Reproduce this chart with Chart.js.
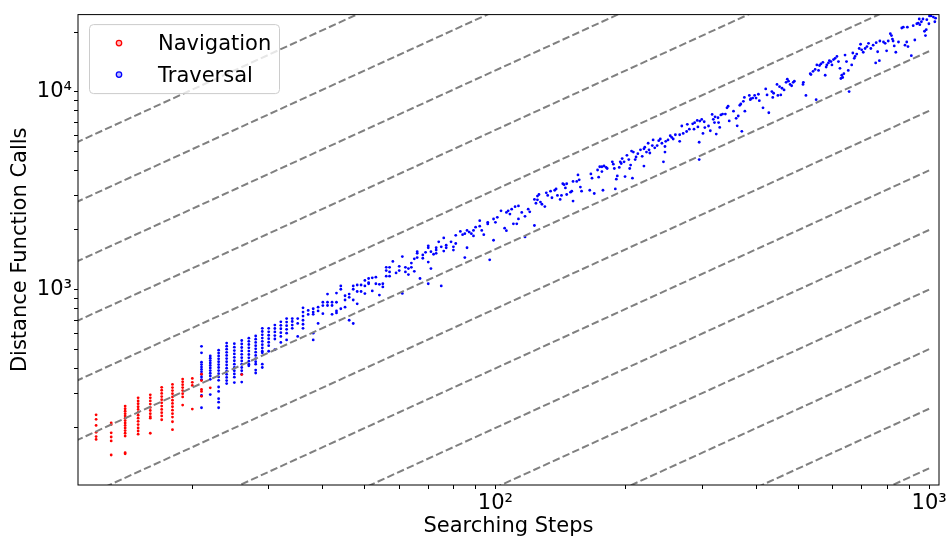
<!DOCTYPE html>
<html>
<head>
<meta charset="utf-8">
<title>Searching Steps vs Distance Function Calls</title>
<script src="https://cdn.jsdelivr.net/npm/chart.js@4.4.1/dist/chart.umd.min.js"></script>
<style>
  html, body { margin: 0; padding: 0; background: #fff; }
  canvas { display: block; }
</style>
</head>
<body>
<canvas id="steps-chart" width="949" height="542"></canvas>
<script>
// searching steps (x) vs distance function calls (y)
// dense low-step runs are kept as [steps, [calls...]] columns
const navigationColumns = [
  [12, [233, 221, 206, 190, 181, 175]],
  [13, [212, 208, 189, 180, 172, 146]],
  [14, [258, 250, 243, 236, 230, 224, 218, 212, 206, 200, 194, 188, 182, 150, 148]],
  [15, [284, 274, 265, 256, 248, 240, 232, 224, 216, 208, 200, 193, 186]],
  [16, [294, 284, 274, 264, 254, 245, 236, 228, 224, 188]],
  [17, [321, 310, 299, 288, 278, 268, 258, 248, 239, 230, 220]],
  [18, [332, 320, 309, 298, 287, 276, 266, 256, 246, 236, 227, 215, 196]],
  [19, [353, 342, 331, 320, 309, 298, 287, 261]],
  [20, [356, 340, 328, 249]],
  [21, [374, 347, 313, 306, 289]],
  [22, [319]],
  [26, [372]],
];

const traversalColumns = [
  [21, [517, 479, 430, 418, 406, 395, 384, 373, 362, 351, 292, 253]],
  [22, [462, 450, 438, 426, 414, 402, 390, 378, 366, 352, 295]],
  [23, [494, 478, 462, 447, 432, 418, 404, 390, 376, 362, 348, 322, 306, 281, 270, 253]],
  [24, [537, 518, 500, 482, 465, 448, 432, 416, 401, 387, 373, 360, 347, 335]],
  [25, [533, 512, 492, 473, 455, 437, 420, 404, 389, 375, 361, 339]],
  [26, [553, 531, 510, 490, 471, 453, 436, 420, 404, 389, 374, 341]],
  [27, [568, 548, 528, 508, 489, 470, 452, 435, 420, 412]],
  [28, [583, 562, 541, 521, 502, 483, 465, 448, 432, 420, 392, 379]],
  [29, [637, 614, 591, 569, 548, 527, 507, 488, 479, 420, 404]],
  [30, [637, 612, 588, 565, 542, 521, 488]],
  [31, [662, 636, 611, 586, 563, 497]],
  [32, [687, 660, 634, 606, 580, 541]],
  [33, [714, 685, 657, 630, 602, 557]],
  [34, [714, 690, 662, 637]],
  [35, [714, 675, 580]],
  [36, [809, 770, 735, 700, 668, 637]],
  [37, [785, 749]],
  [38, [602, 557]],
];

const traversalPoints = [
  [38, 800], [38, 770], [38, 750], [39, 815], [39, 780], [39, 675], [40, 863], [40, 830], [40, 756],
  [41, 949], [41, 863], [41, 831], [42, 863], [42, 831], [42, 750], [43, 960], [43, 863], [43, 780],
  [43, 762], [44, 1043], [44, 1004], [44, 800], [45, 886], [45, 931], [45, 815], [46, 949], [46, 914],
  [46, 700], [47, 1043], [47, 1004], [47, 886], [47, 674], [48, 1055], [48, 978], [48, 847], [49, 1055],
  [49, 978], [50, 1112], [50, 1043], [50, 955], [51, 1138], [51, 1083], [51, 1070], [52, 985], [52, 1147],
  [53, 1156], [53, 1070], [54, 1063], [54, 938], [55, 1070], [55, 1031], [56, 1296], [56, 1247], [56, 1169],
  [57, 1296], [57, 1228], [57, 1169], [58, 1387], [59, 1214], [60, 1310], [60, 1247], [61, 1468], [61, 956],
  [62, 1228], [62, 1296], [63, 1191], [63, 1277], [64, 1296], [64, 1361], [65, 1237], [65, 1430], [66, 1525],
  [66, 1452], [66, 1554], [67, 1138], [68, 1496], [68, 1440], [69, 1542], [70, 1377], [70, 1070], [70, 1664],
  [70, 1627], [71, 1277], [71, 1554], [72, 1508], [73, 1584], [73, 1524], [73, 1627], [74, 1742], [75, 1043],
  [75, 1645], [76, 1823], [76, 1566], [77, 1627], [77, 1677], [79, 1742], [80, 1584], [80, 1645], [81, 1709],
  [81, 1880], [83, 1967], [84, 1894], [85, 1916], [85, 1452], [86, 1627], [86, 1990], [87, 1952], [88, 1916],
  [89, 1990], [89, 1866], [90, 2067], [92, 2090], [92, 2230], [93, 1990], [94, 1894], [96, 2147], [96, 2188],
  [97, 1413], [99, 2273], [99, 1775], [100, 2188], [101, 2317], [103, 2499],
  [105, 2044], [106, 1984], [106, 2453], [107, 2500], [108, 2407], [109, 2548], [110, 2148], [111, 2623],
  [113, 2646], [113, 2274], [112, 2148], [115, 2453], [117, 2344], [119, 2548], [120, 2470], [117, 1845],
  [123, 2108], [123, 2855], [124, 2730], [125, 2966], [125, 2840], [126, 3022], [127, 2769], [128, 2698],
  [130, 2627], [131, 3081], [132, 2990], [134, 3140], [135, 2910], [137, 3175], [138, 3225], [139, 2990],
  [141, 2855], [142, 2990], [143, 3426], [144, 3387], [145, 3261], [146, 3426], [146, 3023], [149, 3104],
  [150, 3140], [151, 3518], [151, 2801], [154, 3518], [155, 3796], [156, 3586], [157, 3297], [158, 3140],
  [165, 3175], [166, 3838], [167, 3655], [169, 3058], [172, 4019], [173, 3697], [174, 4174], [176, 3944],
  [176, 4174], [177, 3175], [178, 4210], [180, 4142], [181, 4091], [186, 4418], [187, 4300], [188, 4091],
  [189, 3224], [190, 3613], [191, 3752], [193, 4142], [194, 4418], [195, 4336], [196, 4590], [198, 4418],
  [199, 3725], [201, 4768], [203, 4536], [204, 4091], [205, 4254], [206, 5008], [207, 3655], [208, 4952],
  [210, 4536], [211, 4676], [213, 4858], [216, 5085], [218, 4712], [220, 4206], [220, 5143], [221, 5242],
  [223, 4952], [225, 5485], [226, 5085], [227, 4898], [230, 5342], [231, 5700], [233, 5201], [236, 5342],
  [238, 5656], [240, 5764], [242, 5485], [244, 4419], [246, 4952], [246, 5283], [247, 5613], [250, 5700],
  [253, 5986], [255, 5874], [257, 5764], [260, 6056], [266, 6056], [266, 5613], [269, 6707], [271, 6148],
  [276, 6290], [277, 6834], [280, 6459], [285, 6874], [287, 6459], [288, 6966], [292, 7154], [293, 6631],
  [295, 5549], [295, 4536], [296, 7100], [299, 7236], [301, 6148], [303, 7045], [304, 6583], [310, 6707],
  [313, 6343], [316, 7674], [318, 7249], [320, 6980], [321, 7458], [323, 6106], [326, 7382], [327, 6980],
  [329, 6594], [331, 7624], [334, 7706], [339, 7706], [342, 8280], [344, 8437], [346, 7114], [354, 7971],
  [359, 7327], [361, 6719], [363, 7531], [366, 8537], [368, 8660], [370, 6306], [373, 8933], [375, 9349],
  [376, 7971], [385, 9564], [387, 9104], [388, 9214], [392, 9277], [396, 9564], [399, 9277], [404, 9700],
  [406, 8997], [414, 8280], [420, 10320], [423, 9627], [427, 7821], [434, 10010], [436, 9349], [438, 9814],
  [446, 10870], [448, 9564], [452, 10600], [455, 9627], [458, 10400], [463, 10200], [468, 11140], [471, 11560],
  [474, 11300], [478, 10870], [482, 10710], [486, 11140], [489, 11300], [512, 10870], [513, 11140], [520, 9564],
  [532, 12330], [534, 12190], [540, 12660], [546, 12950], [549, 9104], [551, 13650], [556, 12800], [559, 13550],
  [563, 13810], [569, 14070], [576, 12100], [579, 13300], [581, 13650], [586, 13970], [589, 14340], [594, 14180],
  [597, 13650], [602, 14520], [607, 14730], [613, 15070], [618, 14180], [623, 13120], [626, 11650], [629, 12100],
  [632, 11790], [636, 12330], [640, 15300], [645, 14180], [651, 12800], [654, 10010], [663, 13650], [667, 15670],
  [672, 14730], [675, 15070], [681, 15480], [690, 16520], [695, 17350], [699, 16260], [705, 15810], [712, 16520],
  [719, 16890], [725, 17550], [734, 16520], [743, 17160], [753, 13970], [755, 17680], [761, 15900], [768, 14340],
  [770, 18020], [785, 17810], [792, 17550], [798, 16080], [805, 18020], [814, 19620], [819, 19200], [823, 18430],
  [826, 18020], [831, 17020], [838, 15810], [850, 17810], [865, 20970], [872, 21170], [880, 17160], [888, 17810],
  [891, 21170], [894, 16890], [910, 15190], [919, 21530], [927, 18230], [937, 22030], [944, 22200], [949, 23280],
  [952, 21780], [960, 22540], [968, 23280], [976, 20190], [981, 19200], [985, 20570], [988, 23100], [999, 22030],
  [1002, 24130], [1010, 24130], [1023, 23800], [1031, 22540], [1035, 23500],
];

// dashed reference lines calls = ratio * steps
const guideRatios = [0.125, 0.25, 0.5, 1, 2, 4, 8, 16, 32, 64, 128, 256, 512];
const guideSteps = [1, 1000];

const stepsRange = [10.9, 1054];
const callsRange = [103, 24500];

function columnsToPoints(columns) {
  const points = [];
  columns.forEach(([steps, calls]) => {
    calls.forEach((c) => points.push({ x: steps, y: c }));
  });
  return points;
}

const superscripts = { 1: "\u00b9", 2: "\u00b2", 3: "\u00b3", 4: "\u2074" };
function decadeLabel(value) {
  const exp = Math.log10(value);
  if (Math.abs(exp - Math.round(exp)) > 1e-9) return "";
  return "10" + superscripts[Math.round(exp)];
}

// keep 2,3,...,9 x 10^n ticks only (drops the min/max ticks chart.js adds)
function keepWholeTicks(axis) {
  axis.ticks = axis.ticks.filter((t) => {
    const m = t.value / Math.pow(10, Math.floor(Math.log10(t.value) + 1e-9));
    return Math.abs(m - Math.round(m)) < 1e-6;
  });
}

const frameAndLegend = {
  id: "frameAndLegend",
  afterDatasetsDraw(chart) {
    const { ctx, chartArea: area } = chart;
    ctx.save();
    ctx.strokeStyle = "#000";
    ctx.lineWidth = 1;
    ctx.strokeRect(area.left, area.top, area.right - area.left, area.bottom - area.top);

    const boxX = area.left + 11.5;
    const boxY = area.top + 10;
    ctx.beginPath();
    ctx.roundRect(boxX, boxY, 190, 69, 4);
    ctx.fillStyle = "rgba(255,255,255,0.8)";
    ctx.fill();
    ctx.strokeStyle = "#cccccc";
    ctx.stroke();

    ctx.font = "21px 'DejaVu Sans'";
    ctx.textBaseline = "alphabetic";
    chart.data.datasets
      .filter((ds) => ds.label)
      .forEach((ds, i) => {
        const cy = boxY + 18.5 + i * 31.5;
        ctx.beginPath();
        ctx.arc(boxX + 29.5, cy, 2.7, 0, Math.PI * 2);
        ctx.fillStyle = ds.backgroundColor + "44";
        ctx.fill();
        ctx.strokeStyle = ds.backgroundColor;
        ctx.lineWidth = 1.3;
        ctx.stroke();
        ctx.fillStyle = "#000";
        ctx.fillText(ds.label, boxX + 68.5, cy + 7.3);
      });
    ctx.restore();
  },
};

const axisFont = { family: "DejaVu Sans", size: 21 };

new Chart(document.getElementById("steps-chart"), {
  type: "scatter",
  data: {
    datasets: [
      {
        label: "Navigation",
        data: columnsToPoints(navigationColumns),
        backgroundColor: "#ff0000",
        pointRadius: 1.4,
        borderWidth: 0,
        clip: 0,
      },
      {
        label: "Traversal",
        data: columnsToPoints(traversalColumns).concat(
          traversalPoints.map(([x, y]) => ({ x: x, y: y }))
        ),
        backgroundColor: "#0000ff",
        pointRadius: 1.4,
        borderWidth: 0,
        clip: 0,
      },
      ...guideRatios.map((ratio) => ({
        label: "",
        data: guideSteps.map((s) => ({ x: s, y: ratio * s })),
        showLine: true,
        borderColor: "#808080",
        borderWidth: 2,
        borderDash: [7.5, 3.2],
        pointRadius: 0,
        order: -1,
        clip: 0,
      })),
    ],
  },
  options: {
    responsive: false,
    animation: false,
    events: [],
    layout: { padding: { top: 5, right: 10, bottom: 0, left: 0 } },
    plugins: {
      legend: { display: false },
      tooltip: { enabled: false },
    },
    scales: {
      x: {
        type: "logarithmic",
        min: stepsRange[0],
        max: stepsRange[1],
        afterBuildTicks: keepWholeTicks,
        afterFit: (scale) => {
          scale.height = 57;
        },
        border: { display: false },
        grid: { drawOnChartArea: false, tickLength: 4, tickColor: "#000", tickWidth: 1 },
        ticks: {
          autoSkip: false,
          maxRotation: 0,
          padding: 2,
          color: "#000",
          font: axisFont,
          callback: decadeLabel,
        },
        title: {
          display: true,
          text: "Searching Steps",
          color: "#000",
          font: axisFont,
          padding: { top: 0, bottom: 3 },
        },
      },
      y: {
        type: "logarithmic",
        min: callsRange[0],
        max: callsRange[1],
        afterBuildTicks: keepWholeTicks,
        afterFit: (scale) => {
          scale.width = 78;
        },
        border: { display: false },
        grid: { drawOnChartArea: false, tickLength: 4, tickColor: "#000", tickWidth: 1 },
        ticks: {
          autoSkip: false,
          padding: 2,
          color: "#000",
          font: axisFont,
          callback: decadeLabel,
        },
        title: {
          display: true,
          text: "Distance Function Calls",
          color: "#000",
          font: axisFont,
          padding: { top: 8, bottom: 0 },
        },
      },
    },
  },
  plugins: [frameAndLegend],
});
</script>
</body>
</html>
